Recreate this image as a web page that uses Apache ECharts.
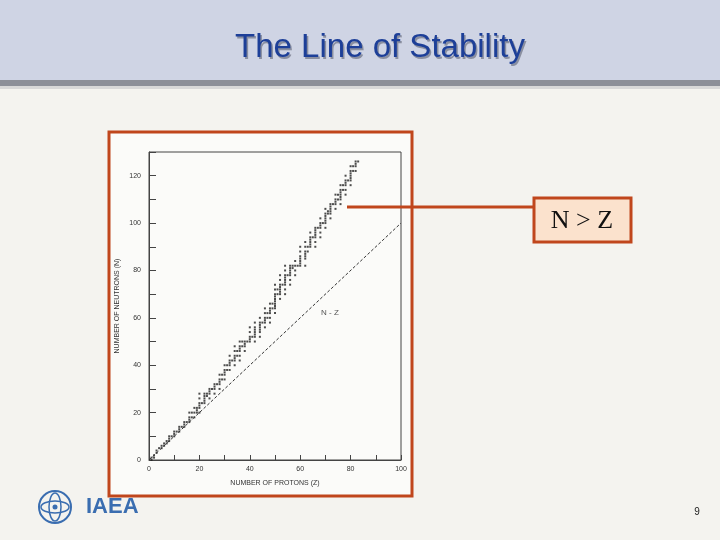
<!DOCTYPE html>
<html><head><meta charset="utf-8">
<script src="https://cdn.jsdelivr.net/npm/echarts@6/dist/echarts.min.js"></script>
<style>html,body{margin:0;padding:0;background:#f4f3ef}#c{width:720px;height:540px}</style>
</head><body><div id="c"></div>
<script>
// Stable nuclides: proton number Z and its stable neutron numbers N
const protonNumbers = [1,2,3,4,5,6,7,8,9,10,11,12,13,14,15,16,17,18,19,20,21,22,23,24,25,26,27,28,29,30,31,32,33,34,35,36,37,38,39,40,41,42,44,45,46,47,48,49,50,51,52,53,54,55,56,57,58,59,60,62,63,64,65,66,67,68,69,70,71,72,73,74,75,76,77,78,79,80,81,82,83];
const neutronLists = [[0,1],[1,2],[3,4],[5],[5,6],[6,7],[7,8],[8,9,10],[10],[10,11,12],[12],[12,13,14],[14],[14,15,16],[16],[16,17,18,20],[18,20],[18,20,22],[20,21,22],[20,22,23,24,26,28],[24],[24,25,26,27,28],[27,28],[26,28,29,30],[30],[28,30,31,32],[32],[30,32,33,34,36],[34,36],[34,36,37,38,40],[38,40],[38,40,41,42,44],[42],[40,42,43,44,46,48],[44,46],[42,44,46,47,48,50],[48,50],[46,48,49,50],[50],[50,51,52,54,56],[52],[50,52,53,54,55,56,58],[52,54,55,56,57,58,60],[58],[56,58,59,60,62,64],[60,62],[58,60,62,63,64,66],[64,66],[62,64,65,66,67,68,69,70,72,74],[70,72],[68,70,71,72,73,74,76,78],[74],[70,72,74,75,76,77,78,80,82],[78],[74,76,78,79,80,81,82],[81,82],[78,80,82,84],[82],[82,83,84,85,86,88,90],[82,85,86,87,88,90,92],[88,90],[90,91,92,93,94,96],[94],[90,92,94,95,96,97,98],[98],[94,96,98,99,100,102],[100],[98,100,101,102,103,104,106],[104,105],[102,104,105,106,107,108],[108],[106,108,109,110,112],[110,112],[108,110,111,112,113,114,116],[114,116],[112,114,116,117,118,120],[118],[116,118,119,120,121,122,124],[122,124],[122,124,125,126],[126]];
const nEqualsZ = [[0,0],[100,100]];
const xTicks = [0,20,40,60,80,100];
const yTicks = [0,20,40,60,80,100,120];

const points = [];
protonNumbers.forEach((z,i)=>neutronLists[i].forEach(n=>points.push([z,n])));

const chart = echarts.init(document.getElementById('c'));
const orange = '#c0461c';
chart.setOption({
  backgroundColor:'#f4f3ef',
  animation:false,
  graphic:[
    {type:'rect',shape:{x:0,y:0,width:720,height:80},style:{fill:'#cfd4e4'},z:-10},
    {type:'rect',shape:{x:0,y:80,width:720,height:6},style:{fill:'#8c8f98'},z:-10},
    {type:'rect',shape:{x:0,y:86,width:720,height:3},style:{fill:'#d8d8d8'},z:-10},
    {type:'text',x:381.5,y:49.5,style:{text:'The Line of Stability',font:'33px "Liberation Sans", Arial',fill:'#8a8fa0',textAlign:'center',textVerticalAlign:'middle'},z:-9},
    {type:'text',x:380,y:48,style:{text:'The Line of Stability',font:'33px "Liberation Sans", Arial',fill:'#1d3f98',textAlign:'center',textVerticalAlign:'middle'},z:-8},
    {type:'rect',shape:{x:109,y:132,width:303,height:364},style:{fill:'#fbfbf9',stroke:orange,lineWidth:3},z:-5},
    {type:'line',shape:{x1:347,y1:207,x2:534,y2:207},style:{stroke:orange,lineWidth:3},z:10},
    {type:'rect',shape:{x:534,y:198,width:97,height:44},style:{fill:'#fbe2cd',stroke:orange,lineWidth:3},z:10},
    {type:'text',x:582,y:221,style:{text:'N > Z',font:'26px "Liberation Serif", "Times New Roman"',fill:'#111',textAlign:'center',textVerticalAlign:'middle'},z:11},
    {type:'text',x:330,y:313,style:{text:'N - Z',font:'8px "Liberation Sans"',fill:'#555',textAlign:'center',textVerticalAlign:'middle'},z:11},
    {type:'circle',shape:{cx:55,cy:507,r:16},style:{fill:'none',stroke:'#3a6db0',lineWidth:2}},
    {type:'ellipse',shape:{cx:55,cy:507,rx:14,ry:6},style:{fill:'none',stroke:'#3a6db0',lineWidth:1.5}},
    {type:'ellipse',shape:{cx:55,cy:507,rx:6,ry:14},style:{fill:'none',stroke:'#3a6db0',lineWidth:1.5}},
    {type:'circle',shape:{cx:55,cy:507,r:2.5},style:{fill:'#3a6db0'}},
    {type:'text',x:86,y:507,style:{text:'IAEA',font:'bold 22px "Liberation Sans", Arial',fill:'#3a6db0',textVerticalAlign:'middle'}},
    {type:'text',x:697,y:512,style:{text:'9',font:'10px "Liberation Sans"',fill:'#222',textAlign:'center',textVerticalAlign:'middle'}}
  ],
  grid:{left:149,right:319,top:152,bottom:80,show:true,borderColor:'#444',borderWidth:1,backgroundColor:'transparent'},
  xAxis:{type:'value',min:0,max:100,interval:20,
    name:'NUMBER OF PROTONS (Z)',nameLocation:'middle',nameGap:20,nameTextStyle:{fontSize:7,color:'#333'},
    axisLine:{lineStyle:{color:'#444'}},axisTick:{inside:true,length:5,lineStyle:{color:'#444'}},
    minorTick:{show:true,splitNumber:2,length:5,lineStyle:{color:'#444'}},
    axisLabel:{fontSize:7,color:'#333',margin:6,formatter:v=>xTicks.includes(v)?String(v):''},splitLine:{show:false}},
  yAxis:{type:'value',min:0,max:130,interval:20,
    name:'NUMBER OF NEUTRONS (N)',nameLocation:'middle',nameGap:28,nameTextStyle:{fontSize:7,color:'#333'},
    axisLine:{lineStyle:{color:'#444'}},axisTick:{inside:true,length:7,lineStyle:{color:'#444'}},
    minorTick:{show:true,splitNumber:2,length:7,lineStyle:{color:'#444'}},
    axisLabel:{fontSize:7,color:'#333',margin:8,formatter:v=>yTicks.includes(v)?String(v):''},splitLine:{show:false}},
  series:[
    {type:'scatter',data:points,symbol:'rect',symbolSize:2,itemStyle:{color:'#222'}},
    {type:'line',data:nEqualsZ,symbol:'none',lineStyle:{color:'#333',width:1,type:[3,2]}}
  ]
});
</script></body></html>
